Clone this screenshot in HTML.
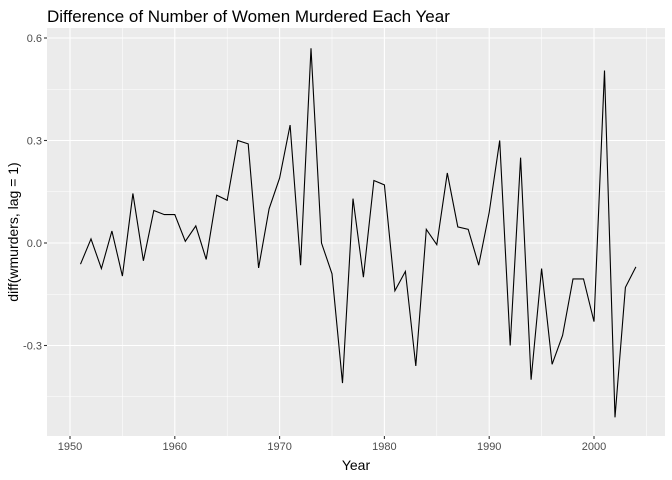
<!DOCTYPE html>
<html><head><meta charset="utf-8"><style>
body{margin:0;background:#fff;}
svg{display:block;font-family:"Liberation Sans",sans-serif;}
</style></head><body>
<svg id="chart" width="672" height="480">
<text x="47" y="22" font-size="17" fill="#000">Difference of Number of Women Murdered Each Year</text>
<rect x="47" y="28" width="618" height="408" fill="#EBEBEB"/>
<g id="grid"></g>
<g id="axes"></g>
<path id="line" fill="none" stroke="#000" stroke-width="1.1"/>
<text x="356" y="470" font-size="14" text-anchor="middle" fill="#000">Year</text>
<text transform="translate(18,232) rotate(-90)" font-size="14" text-anchor="middle" fill="#000">diff(wmurders, lag = 1)</text>
</svg>
<script>
const years=[1951,1952,1953,1954,1955,1956,1957,1958,1959,1960,1961,1962,1963,1964,1965,1966,1967,1968,1969,1970,1971,1972,1973,1974,1975,1976,1977,1978,1979,1980,1981,1982,1983,1984,1985,1986,1987,1988,1989,1990,1991,1992,1993,1994,1995,1996,1997,1998,1999,2000,2001,2002,2003,2004];
const values=[-0.062,0.012,-0.075,0.035,-0.097,0.145,-0.052,0.095,0.083,0.083,0.005,0.05,-0.048,0.14,0.125,0.30,0.29,-0.073,0.10,0.19,0.345,-0.065,0.57,0.0,-0.09,-0.41,0.13,-0.10,0.183,0.17,-0.14,-0.083,-0.36,0.04,-0.005,0.205,0.047,0.04,-0.065,0.09,0.30,-0.30,0.25,-0.40,-0.075,-0.355,-0.27,-0.105,-0.105,-0.23,0.505,-0.51,-0.13,-0.07];
const xTicks=[1950,1960,1970,1980,1990,2000];
const yTicks=[0.6,0.3,0.0,-0.3];
const yLabels=["0.6","0.3","0.0","-0.3"];
const X=v=>70+(v-1950)*(594-70)/50;
const Y=v=>243-v*(243-38)/0.6;
const ns="http://www.w3.org/2000/svg";
const grid=document.getElementById('grid'),axes=document.getElementById('axes');
function ln(p,x1,y1,x2,y2,c,w){const l=document.createElementNS(ns,'line');l.setAttribute('x1',x1);l.setAttribute('y1',y1);l.setAttribute('x2',x2);l.setAttribute('y2',y2);l.setAttribute('stroke',c);l.setAttribute('stroke-width',w);p.appendChild(l);return l;}
function tx(p,x,y,s,a){const t=document.createElementNS(ns,'text');t.setAttribute('x',x);t.setAttribute('y',y);t.setAttribute('font-size','11');t.setAttribute('fill','#4D4D4D');t.setAttribute('text-anchor',a);t.textContent=s;p.appendChild(t);return t;}
for(let i=0;i<xTicks.length;i++){const m=xTicks[i]+5;const l=ln(grid,X(m),28,X(m),436,'#fff',0.55);

}
for(let i=0;i<yTicks.length;i++){const m=yTicks[i]-0.15;const l=ln(grid,47,Y(m),665,Y(m),'#fff',0.55);

}
xTicks.forEach(v=>{const l=ln(grid,X(v),28,X(v),436,'#fff',1.1);


const t=ln(axes,X(v),436,X(v),439,'#333',1.1);


const s=tx(axes,X(v),450,String(v),'middle');

});
yTicks.forEach((v,i)=>{const l=ln(grid,47,Y(v),665,Y(v),'#fff',1.1);


const t=ln(axes,44,Y(v),47,Y(v),'#333',1.1);


const s=tx(axes,42,Y(v)+4,yLabels[i],'end');

});
document.getElementById('line').setAttribute('d',years.map((y,i)=>(i?'L':'M')+X(y).toFixed(1)+','+Y(values[i]).toFixed(1)).join(''));
</script>
</body></html>
